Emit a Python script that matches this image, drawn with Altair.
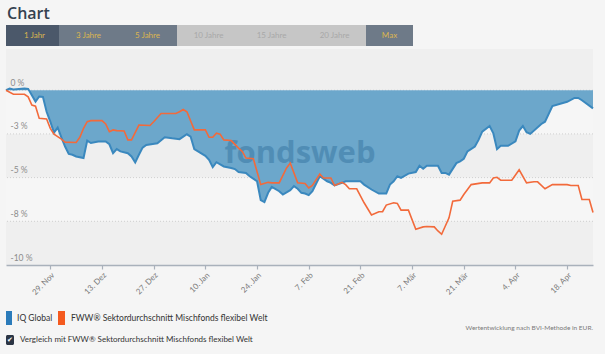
import altair as alt
import pandas as pd

# ---------------- data ----------------
series_names = ["IQ Global", "FWW® Sektordurchschnitt Mischfonds flexibel Welt"]

iq_dates = [
    "2021-11-17", "2021-11-18", "2021-11-19", "2021-11-22", "2021-11-23", "2021-11-25", "2021-11-26",
    "2021-11-27", "2021-11-28", "2021-11-29", "2021-11-30", "2021-12-01", "2021-12-02", "2021-12-03",
    "2021-12-04", "2021-12-05", "2021-12-06", "2021-12-08", "2021-12-09", "2021-12-10", "2021-12-12",
    "2021-12-14", "2021-12-15", "2021-12-16", "2021-12-17", "2021-12-18", "2021-12-20", "2021-12-21",
    "2021-12-22", "2021-12-23", "2021-12-24", "2021-12-25", "2021-12-28", "2021-12-30", "2022-01-01",
    "2022-01-03", "2022-01-05", "2022-01-06", "2022-01-07", "2022-01-10", "2022-01-11", "2022-01-12",
    "2022-01-13", "2022-01-15", "2022-01-17", "2022-01-18", "2022-01-19", "2022-01-21", "2022-01-22",
    "2022-01-24", "2022-01-25", "2022-01-26", "2022-01-27", "2022-01-28", "2022-01-30", "2022-01-31",
    "2022-02-02", "2022-02-03", "2022-02-04", "2022-02-05", "2022-02-06", "2022-02-07", "2022-02-08",
    "2022-02-10", "2022-02-12", "2022-02-13", "2022-02-14", "2022-02-16", "2022-02-17", "2022-02-21",
    "2022-02-22", "2022-02-24", "2022-02-26", "2022-02-28", "2022-03-01", "2022-03-02", "2022-03-03",
    "2022-03-04", "2022-03-06", "2022-03-08", "2022-03-09", "2022-03-10", "2022-03-11", "2022-03-14",
    "2022-03-15", "2022-03-16", "2022-03-17", "2022-03-19", "2022-03-20", "2022-03-21", "2022-03-22",
    "2022-03-24", "2022-03-25", "2022-03-26", "2022-03-28", "2022-03-29", "2022-03-30", "2022-03-31",
    "2022-04-02", "2022-04-04", "2022-04-05", "2022-04-06", "2022-04-07", "2022-04-08", "2022-04-11",
    "2022-04-12", "2022-04-14", "2022-04-18", "2022-04-20", "2022-04-21", "2022-04-22", "2022-04-25",
]
iq_values = [
    0.00, 0.10, 0.04, 0.10, 0.08, -0.65, -0.36,
    -0.38, -1.23, -1.80, -2.42, -2.14, -2.70, -3.22,
    -3.64, -3.69, -3.79, -3.88, -2.88, -3.02, -2.93,
    -2.93, -3.09, -3.60, -3.37, -3.50, -3.60, -3.79,
    -4.13, -3.69, -3.28, -3.13, -3.03, -2.69, -2.75,
    -2.80, -2.52, -2.65, -3.37, -3.75, -3.98, -4.40,
    -4.12, -4.36, -4.45, -4.51, -4.68, -4.73, -4.92,
    -5.21, -6.29, -6.40, -5.87, -5.53, -5.78, -5.97,
    -5.72, -5.49, -5.64, -5.87, -5.91, -6.00, -5.78,
    -4.92, -5.21, -5.30, -5.45, -5.30, -5.21, -5.21,
    -5.40, -5.68, -5.91, -5.91, -5.40, -5.21, -4.92,
    -5.02, -4.77, -4.68, -4.32, -4.49, -4.32, -4.32,
    -4.73, -4.73, -4.83, -4.17, -4.07, -3.92, -3.50,
    -3.22, -2.84, -2.37, -2.05, -2.46, -3.37, -3.18,
    -3.18, -2.93, -2.31, -2.05, -2.40, -2.50, -1.93,
    -1.80, -0.91, -0.66, -0.44, -0.44, -0.57, -1.04,
]

fww_dates = [
    "2021-11-17", "2021-11-19", "2021-11-22", "2021-11-23", "2021-11-24", "2021-11-25", "2021-11-26",
    "2021-11-28", "2021-11-29", "2021-11-30", "2021-12-01", "2021-12-02", "2021-12-03", "2021-12-06",
    "2021-12-07", "2021-12-08", "2021-12-09", "2021-12-10", "2021-12-13", "2021-12-14", "2021-12-15",
    "2021-12-16", "2021-12-17", "2021-12-19", "2021-12-20", "2021-12-21", "2021-12-23", "2021-12-26",
    "2021-12-27", "2021-12-29", "2022-01-02", "2022-01-03", "2022-01-04", "2022-01-05", "2022-01-07",
    "2022-01-10", "2022-01-11", "2022-01-12", "2022-01-13", "2022-01-14", "2022-01-15", "2022-01-17",
    "2022-01-19", "2022-01-20", "2022-01-21", "2022-01-23", "2022-01-25", "2022-01-27", "2022-01-28",
    "2022-01-30", "2022-02-01", "2022-02-02", "2022-02-04", "2022-02-06", "2022-02-07", "2022-02-08",
    "2022-02-10", "2022-02-11", "2022-02-13", "2022-02-14", "2022-02-16", "2022-02-17", "2022-02-18",
    "2022-02-20", "2022-02-22", "2022-02-24", "2022-02-26", "2022-02-27", "2022-02-28", "2022-03-02",
    "2022-03-03", "2022-03-04", "2022-03-06", "2022-03-08", "2022-03-10", "2022-03-11", "2022-03-13",
    "2022-03-14", "2022-03-15", "2022-03-17", "2022-03-18", "2022-03-20", "2022-03-21", "2022-03-23",
    "2022-03-26", "2022-03-28", "2022-03-29", "2022-03-30", "2022-03-31", "2022-04-03", "2022-04-05",
    "2022-04-07", "2022-04-09", "2022-04-10", "2022-04-12", "2022-04-14", "2022-04-18", "2022-04-19",
    "2022-04-21", "2022-04-22", "2022-04-24", "2022-04-25",
]
fww_values = [
    0.00, -0.23, -0.23, -0.38, -0.85, -0.91, -1.61,
    -1.65, -2.18, -2.52, -2.65, -2.80, -2.97, -2.99,
    -2.69, -2.18, -1.80, -1.74, -1.74, -1.93, -2.37,
    -2.27, -2.31, -2.33, -2.84, -2.84, -1.99, -2.02,
    -1.80, -1.33, -1.33, -1.23, -1.10, -1.23, -2.27,
    -2.27, -2.69, -2.69, -2.46, -2.52, -2.84, -2.88,
    -3.31, -3.50, -3.88, -3.92, -5.40, -5.27, -5.30,
    -5.30, -4.45, -4.17, -5.30, -5.34, -5.59, -5.45,
    -4.79, -5.02, -5.02, -5.45, -5.27, -5.40, -5.64,
    -5.64, -6.44, -7.14, -6.95, -6.95, -6.57, -6.44,
    -6.48, -6.86, -6.86, -7.95, -7.82, -7.80, -7.82,
    -8.05, -8.24, -7.30, -6.35, -6.29, -5.97, -5.40,
    -5.30, -5.30, -5.02, -4.98, -5.15, -5.15, -4.55,
    -5.30, -5.24, -5.24, -5.64, -5.40, -5.40, -5.45,
    -5.45, -6.25, -6.25, -7.00,
]

y_ticks = [0, -2.5, -5, -7.5, -10]
x_tick_dates = ["2021-11-29", "2021-12-13", "2021-12-27", "2022-01-10", "2022-01-24", "2022-02-07",
                "2022-02-21", "2022-03-07", "2022-03-21", "2022-04-04", "2022-04-18"]
month_names = ["Jan", "Feb", "Mär", "Apr", "Mai", "Jun", "Jul", "Aug", "Sep", "Okt", "Nov", "Dez"]

tab_labels = ["1 Jahr", "3 Jahre", "5 Jahre", "10 Jahre", "15 Jahre", "20 Jahre", "Max"]
tab_states = ["active", "on", "on", "off", "off", "off", "on"]

title_text = "Chart"
checkbox_text = "Vergleich mit FWW® Sektordurchschnitt Mischfonds flexibel Welt"
note_text = "Wertentwicklung nach BVI-Methode in EUR."

# ---------------- layout / style ----------------
W, H = 587, 216
PAD = {"left": 6, "top": 49, "right": 12, "bottom": 89}
Y_DOMAIN = [-10, 2.36]
BLUE_FILL = "#6ca7cb"
BLUE_LINE = "#3a88be"
ORANGE = "#f26a3b"
FONT = "Lato"

iq_df = pd.DataFrame({"date": iq_dates, "value": iq_values, "series": series_names[0]})
fww_df = pd.DataFrame({"date": fww_dates, "value": fww_values, "series": series_names[1]})
band_df = pd.DataFrame({"top": [y_ticks[0], y_ticks[2]], "bottom": [y_ticks[1], y_ticks[3]]})
grid_df = pd.DataFrame({"tick": y_ticks[:-1]})

x_scale = alt.Scale(type="utc", nice=False)
y_scale = alt.Scale(domain=Y_DOMAIN, nice=False, zero=False)

tick_values = [
    alt.DateTime(year=t.year, month=t.month, date=t.day, utc=True)
    for t in pd.to_datetime(x_tick_dates)
]
months_js = "[" + ",".join("'" + m + "'" for m in month_names) + "]"

x_axis = alt.Axis(
    values=tick_values,
    labelExpr="utcdate(datum.value) + '. ' + " + months_js + "[utcmonth(datum.value)]",
    labelAngle=-45, labelFont=FONT, labelFontSize=8, labelColor="#7a7a7a",
    domainColor="#a9b1bb", domainWidth=1.5, tickColor="#a9b1bb", tickSize=4, tickWidth=1.2,
    grid=False, title=None, labelPadding=2,
)
y_axis = alt.Axis(
    values=y_ticks,
    labelExpr="datum.value == 0 ? '0 %' : '-' + format(-datum.value, '.0f') + ' %'",
    orient="left", domain=False, ticks=False, labelAlign="left", labelPadding=-4,
    labelBaseline="alphabetic", labelOffset=-5, labelFont=FONT, labelFontSize=8.5,
    labelColor="#8c8c8c", grid=False, title=None, zindex=1,
)

bands = alt.Chart(band_df).mark_rect(color="#f6f6f6").encode(
    x=alt.value(0), x2=alt.value("width"),
    y=alt.Y("top:Q", scale=y_scale, axis=y_axis), y2="bottom:Q",
)

grid = alt.Chart(grid_df).mark_rule(color="#cfcfcf", strokeDash=[1, 2], strokeWidth=1).encode(
    y=alt.Y("tick:Q", scale=y_scale, axis=y_axis),
)

area = alt.Chart(iq_df).mark_area(color=BLUE_FILL, opacity=1).encode(
    x=alt.X("date:T", scale=x_scale, axis=x_axis),
    y=alt.Y("value:Q", scale=y_scale, axis=y_axis),
    y2=alt.datum(0),
)

one = alt.Data(values=[{"k": 0}])

watermark = alt.Chart(one).mark_text(
    text="fondsweb", font="Open Sans", fontWeight="bold", fontSize=31,
    color="#1f5f8f", opacity=0.35, align="center", baseline="alphabetic",
).encode(x=alt.value(294), y=alt.value(114))

iq_line = alt.Chart(iq_df).mark_line(color=BLUE_LINE, strokeWidth=2).encode(
    x=alt.X("date:T", scale=x_scale), y=alt.Y("value:Q", scale=y_scale),
)
fww_line = alt.Chart(fww_df).mark_line(color=ORANGE, strokeWidth=1.6).encode(
    x=alt.X("date:T", scale=x_scale), y=alt.Y("value:Q", scale=y_scale),
)

deco = []

# title
deco.append(alt.Chart(one).mark_text(
    text=title_text, font="Open Sans", fontSize=16, fontWeight=600, color="#354250",
    align="left", baseline="alphabetic",
).encode(x=alt.value(1), y=alt.value(-30)))

# tabs
tab_bounds = [(0, 53), (53, 112), (112, 171), (171, 234), (234, 297), (297, 360), (360, 407)]
tab_bg = {"active": "#4b586a", "on": "#6e7a88", "off": "#c6c6c6"}
tab_fg = {"active": "#dcb650", "on": "#dcb650", "off": "#a8a8a8"}
for label, state, (x0, x1) in zip(tab_labels, tab_states, tab_bounds):
    deco.append(alt.Chart(one).mark_rect(color=tab_bg[state]).encode(
        x=alt.value(x0), x2=alt.value(x1), y=alt.value(-24), y2=alt.value(-3)))
for label, state, (x0, x1) in zip(tab_labels, tab_states, tab_bounds):
    deco.append(alt.Chart(one).mark_text(
        text=label, font=FONT, fontSize=8, color=tab_fg[state], align="center", baseline="middle",
    ).encode(x=alt.value((x0 + x1) / 2 + (2 if state == "active" else 0)), y=alt.value(-13)))

# legend
deco.append(alt.Chart(one).mark_rect(color="#2b7bba").encode(
    x=alt.value(0), x2=alt.value(6), y=alt.value(262), y2=alt.value(276)))
deco.append(alt.Chart(one).mark_text(
    text=series_names[0], font=FONT, fontSize=8.5, color="#333333", align="left", baseline="middle",
).encode(x=alt.value(11), y=alt.value(269)))
deco.append(alt.Chart(one).mark_rect(color="#f45a1f").encode(
    x=alt.value(52), x2=alt.value(59), y=alt.value(262), y2=alt.value(276)))
deco.append(alt.Chart(one).mark_text(
    text=series_names[1], font=FONT, fontSize=8.5, color="#333333", align="left", baseline="middle",
).encode(x=alt.value(65), y=alt.value(269)))

# note
deco.append(alt.Chart(one).mark_text(
    text=note_text, font=FONT, fontSize=6.5, color="#7a7a7a", align="right", baseline="middle",
).encode(x=alt.value(587), y=alt.value(279)))

# checkbox
deco.append(alt.Chart(one).mark_rect(color="#2b3544", cornerRadius=1.5).encode(
    x=alt.value(0), x2=alt.value(8), y=alt.value(286), y2=alt.value(296)))
deco.append(alt.Chart(one).mark_text(
    text="✔", font="DejaVu Sans", fontSize=7, color="#ffffff", align="center", baseline="middle",
).encode(x=alt.value(4), y=alt.value(291)))
deco.append(alt.Chart(one).mark_text(
    text=checkbox_text, font=FONT, fontSize=8, color="#333333", align="left", baseline="middle",
).encode(x=alt.value(14), y=alt.value(291)))

chart = alt.layer(bands, grid, area, watermark, iq_line, fww_line, *deco).properties(
    width=W, height=H, padding=PAD, background="#f5f5f5",
    autosize=alt.AutoSizeParams(type="none"),
).configure_view(fill="#efefef", stroke=None)

chart.save("out.html", embed_options={"renderer": "svg", "actions": False})
